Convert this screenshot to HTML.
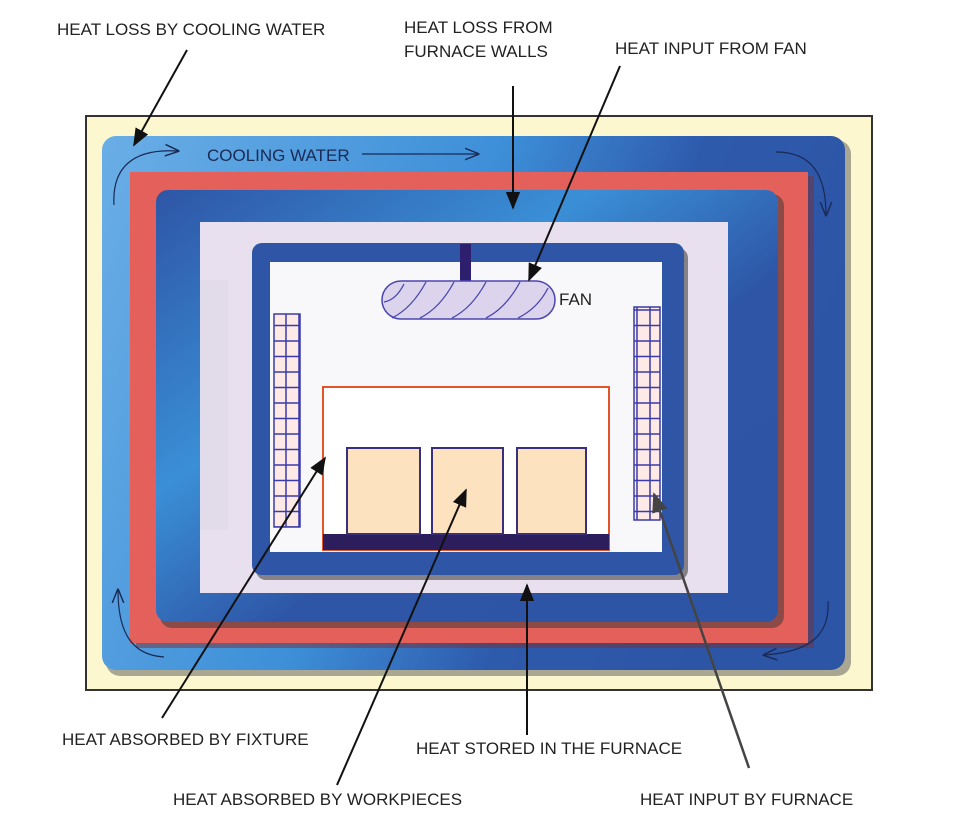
<!DOCTYPE html>
<html><head><meta charset="utf-8"><style>
html,body{margin:0;padding:0;background:#fff;}
body{width:973px;height:835px;position:relative;overflow:hidden;font-family:"Liberation Sans",sans-serif;}
.t{position:absolute;font-size:17px;color:#222;letter-spacing:0px;white-space:nowrap;line-height:24px;}
</style></head><body>
<svg width="973" height="835" style="position:absolute;left:0;top:0">
<defs>
<linearGradient id="wg" x1="0" y1="0" x2="1" y2="0.3">
<stop offset="0" stop-color="#6aaee6"/><stop offset="0.5" stop-color="#3d8fd8"/><stop offset="0.75" stop-color="#2e5aac"/><stop offset="1" stop-color="#2d55a6"/></linearGradient>
<linearGradient id="ib" x1="0" y1="0" x2="1" y2="1">
<stop offset="0" stop-color="#2e55a6"/><stop offset="0.35" stop-color="#3a8fd6"/><stop offset="0.6" stop-color="#2e55a6"/><stop offset="1" stop-color="#2d54a5"/></linearGradient>
<pattern id="hp" width="13" height="15.5" patternUnits="userSpaceOnUse"><rect width="13" height="15.5" fill="#fde9e6" stroke="#3b3ba8" stroke-width="1.5"/></pattern>
<marker id="ah" viewBox="0 0 10 10" refX="9" refY="5" markerWidth="9" markerHeight="9" orient="auto"><path d="M0,1 L10,5 L0,9 z" fill="#111"/></marker>
<marker id="ag" viewBox="0 0 10 10" refX="9" refY="5" markerWidth="8" markerHeight="8" orient="auto"><path d="M0,1 L10,5 L0,9 z" fill="#444"/></marker>
<marker id="oa" viewBox="0 0 10 10" refX="9" refY="5" markerWidth="12" markerHeight="12" orient="auto"><path d="M0,1 L10,5 L0,9" fill="none" stroke="#1a2a55" stroke-width="1"/></marker>
</defs>
<rect x="86" y="116" width="786" height="574" fill="#fcf7cf" stroke="#333" stroke-width="2"/>
<rect x="106" y="140" width="745" height="536" rx="14" fill="#555" opacity="0.5"/>
<rect x="102" y="136" width="743" height="534" rx="14" fill="url(#wg)"/>
<rect x="136" y="176" width="678" height="472" fill="#7a3030" opacity="0.5"/>
<rect x="130" y="172" width="678" height="471" fill="#e4605a"/>
<rect x="160" y="194" width="624" height="434" rx="12" fill="#333" opacity="0.5"/>
<rect x="156" y="190" width="622" height="432" rx="12" fill="url(#ib)"/>
<rect x="200" y="222" width="528" height="371" fill="#e8e0ee"/>
<rect x="200" y="280" width="28" height="250" fill="#e2dbea"/>
<rect x="256" y="248" width="432" height="332" rx="10" fill="#333" opacity="0.55"/>
<rect x="252" y="243" width="432" height="332" rx="10" fill="#2e55a6"/>
<rect x="270" y="262" width="392" height="290" fill="#f8f8fa"/>
<rect x="460" y="244" width="11" height="38" fill="#2e1f6e"/>
<rect x="382" y="281" width="173" height="38" rx="19" fill="#dcd4ec" stroke="#4a46b0" stroke-width="1.5"/>
<g stroke="#4a46b0" stroke-width="1.3" fill="none">
<path d="M384,302 q12,-2 20,-18"/><path d="M392,318 q20,-10 34,-36"/><path d="M420,318 q20,-10 34,-36"/><path d="M452,318 q20,-10 34,-36"/><path d="M486,318 q20,-10 34,-36"/><path d="M518,318 q20,-10 30,-30"/>
</g>
<rect x="274" y="314" width="26" height="213" fill="url(#hp)" stroke="#3b3ba8" stroke-width="1.5"/>
<rect x="634" y="307" width="26" height="213" fill="url(#hp)" stroke="#3b3ba8" stroke-width="1.5"/>
<rect x="323" y="387" width="286" height="163" fill="#fff" stroke="#e0552a" stroke-width="2"/>
<rect x="323" y="534" width="286" height="16" fill="#2c1d5c"/>
<g fill="#fde2bf" stroke="#3a2f7a" stroke-width="2">
<rect x="347" y="448" width="73" height="86"/><rect x="432" y="448" width="71" height="86"/><rect x="517" y="448" width="69" height="86"/></g>
<g stroke="#1a2a55" stroke-width="1.2" fill="none">
<path d="M114,205 C112,170 130,148 178,151" marker-end="url(#oa)"/>
<path d="M362,154 L478,154" marker-end="url(#oa)"/>
<path d="M776,152 C812,152 826,175 826,215" marker-end="url(#oa)"/>
<path d="M828,601 C830,635 810,652 764,655" marker-end="url(#oa)"/>
<path d="M164,657 C130,655 118,630 118,590" marker-end="url(#oa)"/>
</g>
<text x="207" y="161" font-family="Liberation Sans" font-size="17" fill="#1a2a55">COOLING WATER</text>
<text x="559" y="305" font-family="Liberation Sans" font-size="17" fill="#222">FAN</text>
<g stroke="#111" stroke-width="2" fill="none">
<line x1="187" y1="50" x2="134" y2="145" marker-end="url(#ah)"/>
<line x1="513" y1="86" x2="513" y2="208" marker-end="url(#ah)"/>
<line x1="620" y1="66" x2="529" y2="280" marker-end="url(#ah)"/>
<line x1="527" y1="735" x2="527" y2="585" marker-end="url(#ah)"/>
<line x1="162" y1="718" x2="325" y2="458" marker-end="url(#ah)"/>
<line x1="337" y1="785" x2="466" y2="490" marker-end="url(#ah)"/>
</g>
<line x1="749" y1="768" x2="654" y2="494" stroke="#444" stroke-width="2.5" marker-end="url(#ag)"/>
</svg>
<div class="t" style="left:57px;top:18px">HEAT LOSS BY COOLING WATER</div>
<div class="t" style="left:404px;top:16px">HEAT LOSS FROM<br>FURNACE WALLS</div>
<div class="t" style="left:615px;top:37px">HEAT INPUT FROM FAN</div>
<div class="t" style="left:62px;top:728px">HEAT ABSORBED BY FIXTURE</div>
<div class="t" style="left:416px;top:737px">HEAT STORED IN THE FURNACE</div>
<div class="t" style="left:173px;top:788px">HEAT ABSORBED BY WORKPIECES</div>
<div class="t" style="left:640px;top:788px">HEAT INPUT BY FURNACE</div>
</body></html>
